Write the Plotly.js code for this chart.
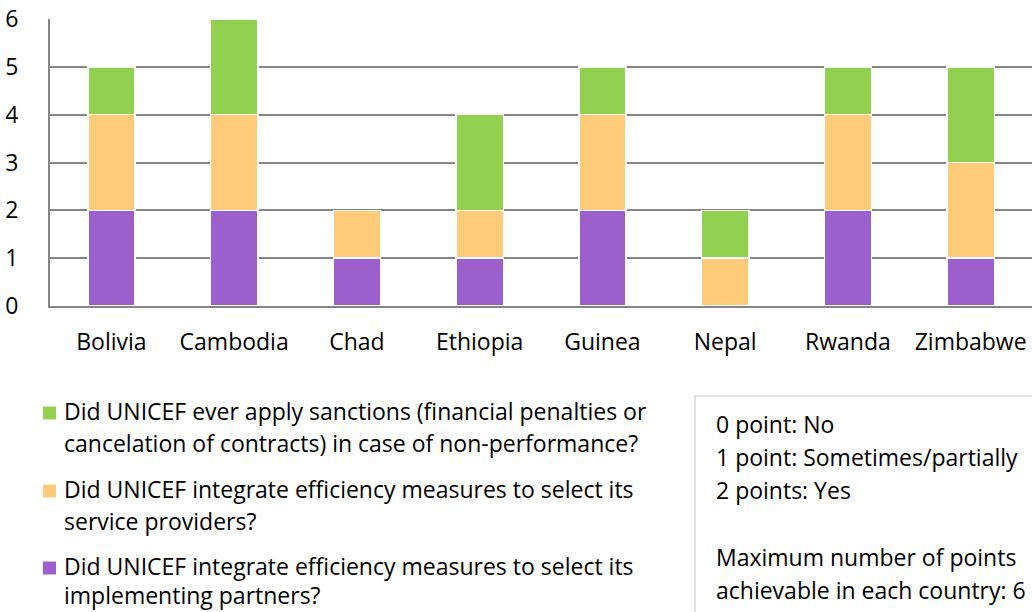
<!DOCTYPE html>
<html>
<head>
<meta charset="utf-8">
<script src="https://cdn.plot.ly/plotly-3.0.1.min.js"></script>
<style>html,body{margin:0;padding:0;background:#fff;}#chart{width:1032px;height:612px;}</style>
</head>
<body>
<div id="chart"></div>
<script>
// ---- data ----
const countries = ["Bolivia", "Cambodia", "Chad", "Ethiopia", "Guinea", "Nepal", "Rwanda", "Zimbabwe"];
const partnersScores = [2, 2, 1, 1, 2, 0, 2, 1];   // purple (bottom)
const providersScores = [2, 2, 1, 1, 2, 1, 2, 2];  // orange (middle)
const sanctionsScores = [1, 2, 0, 2, 1, 1, 1, 2];  // green (top)
const seriesNames = [
  ["Did UNICEF ever apply sanctions (financial penalties or", "cancelation of contracts) in case of non-performance?"],
  ["Did UNICEF integrate efficiency measures to select its", "service providers?"],
  ["Did UNICEF integrate efficiency measures to select its", "implementing partners?"]
];
const yTicks = [0, 1, 2, 3, 4, 5, 6];
const noteLines = ["0 point: No", "1 point: Sometimes/partially", "2 points: Yes", "", "Maximum number of points", "achievable in each country: 6"];

// ---- styles ----
const colors = {sanctions: "#92d050", providers: "#fecc78", partners: "#9c5fcb"};
const FONT = "'Open Sans', 'Liberation Sans', sans-serif";
const FS = 23;
const W = 1032, H = 612;
const M = {l: 50, r: 0, t: 19, b: 306};
const pw = W - M.l - M.r, ph = H - M.t - M.b;
const px = x => (x - M.l) / pw;
const py = y => (H - M.b - y) / ph;

function barTrace(name, vals, color) {
  return {
    type: "bar", name: name, x: countries, y: vals,
    marker: {color: color, line: {color: "#ffffff", width: 1.5}},
    hoverinfo: "x+y+name", showlegend: false
  };
}
const data = [
  barTrace(seriesNames[2].join(" "), partnersScores, colors.partners),
  barTrace(seriesNames[1].join(" "), providersScores, colors.providers),
  barTrace(seriesNames[0].join(" "), sanctionsScores, colors.sanctions)
];

// legend built from names
const legendColors = [colors.sanctions, colors.providers, colors.partners];
const legendLineY = [[411, 443], [489, 521], [566, 595]];
const annotations = [];
const shapes = [];
seriesNames.forEach((lines, i) => {
  lines.forEach((t, j) => {
    annotations.push({xref: "paper", yref: "paper", x: px(62), y: py(legendLineY[i][j]),
      xanchor: "left", yanchor: "middle", showarrow: false, text: t,
      font: {family: FONT, size: FS, color: "#000"}});
  });
  const cy = legendLineY[i][0] + 2;
  shapes.push({type: "rect", xref: "paper", yref: "paper",
    x0: px(43), x1: px(56), y0: py(cy - 6.5), y1: py(cy + 6.5),
    fillcolor: legendColors[i], line: {width: 0}});
});
// note box
shapes.push({type: "rect", xref: "paper", yref: "paper",
  x0: px(695), x1: px(1040), y0: py(396), y1: py(640),
  fillcolor: "rgba(0,0,0,0)", line: {color: "#d9d9d9", width: 1.5}});
const noteY0 = 424, noteStep = 33.2;
noteLines.forEach((t, k) => {
  if (!t) return;
  annotations.push({xref: "paper", yref: "paper", x: px(714), y: py(noteY0 + k * noteStep),
    xanchor: "left", yanchor: "middle", showarrow: false, text: t,
    font: {family: FONT, size: FS, color: "#000"}});
});

const layout = {
  width: W, height: H,
  margin: M,
  paper_bgcolor: "#ffffff", plot_bgcolor: "#ffffff",
  barmode: "stack", bargap: 0.615,
  font: {family: FONT, size: FS, color: "#000"},
  showlegend: false,
  xaxis: {
    type: "category", range: [-0.5, countries.length - 0.5],
    showgrid: false, showline: true, linecolor: "#858585", linewidth: 2,
    ticks: "", ticklabelstandoff: 14, tickfont: {family: FONT, size: FS, color: "#000"},
    fixedrange: true, zeroline: false
  },
  yaxis: {
    range: [0, 6], tickvals: yTicks, ticktext: yTicks.map(String),
    showgrid: true, gridcolor: "#858585", gridwidth: 2,
    showline: true, linecolor: "#858585", linewidth: 2,
    ticks: "", ticklabelstandoff: 25, tickfont: {family: FONT, size: FS, color: "#000"},
    zeroline: false, fixedrange: true
  },
  annotations: annotations,
  shapes: shapes
};

Plotly.newPlot("chart", data, layout, {displayModeBar: false, staticPlot: true});
</script>
</body>
</html>
